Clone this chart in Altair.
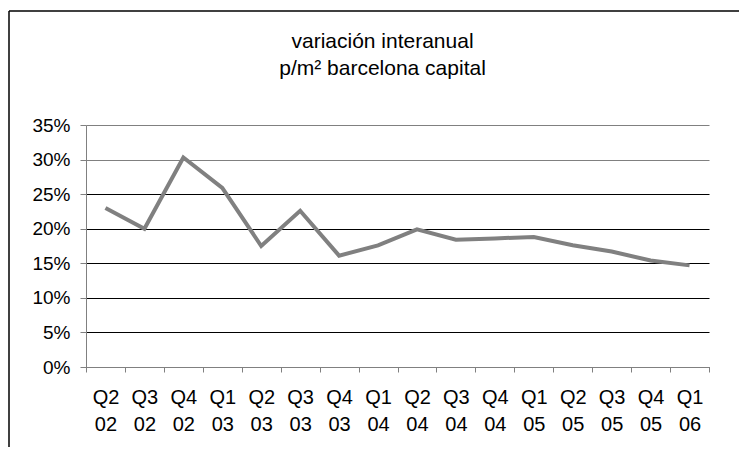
import altair as alt
import pandas as pd

quarters = ["Q2 02", "Q3 02", "Q4 02", "Q1 03", "Q2 03", "Q3 03", "Q4 03", "Q1 04",
            "Q2 04", "Q3 04", "Q4 04", "Q1 05", "Q2 05", "Q3 05", "Q4 05", "Q1 06"]
values = [0.230, 0.200, 0.303, 0.259, 0.175, 0.226, 0.161, 0.176,
          0.199, 0.184, 0.186, 0.188, 0.176, 0.167, 0.154, 0.147]
y_ticks = [0.0, 0.05, 0.10, 0.15, 0.20, 0.25, 0.30, 0.35]
title_lines = ["variación interanual", "p/m² barcelona capital"]

FONT = "Liberation Sans"
df = pd.DataFrame({"q": quarters, "v": values})

line = alt.Chart(df).mark_line(color="#808080", strokeWidth=4, strokeJoin="miter").encode(
    x=alt.X("q:N", sort=quarters, bandPosition=0.5,
            scale=alt.Scale(type="band", paddingInner=0, paddingOuter=0),
            axis=alt.Axis(title=None, labelAngle=0, labelExpr="split(datum.label, ' ')",
                          labelLineHeight=27, labelFontSize=20, labelFont=FONT,
                          labelColor="#000000", labelPadding=15, labelBaseline="top",
                          tickBand="extent", tickSize=5, tickColor="#808080",
                          domainColor="#808080", grid=False)),
    y=alt.Y("v:Q", scale=alt.Scale(domain=[0, 0.35], nice=False),
            axis=alt.Axis(title=None, values=y_ticks, format=".0%", labelFontSize=19,
                          labelFont=FONT, labelColor="#000000", labelPadding=10,
                          tickSize=6, tickColor="#808080", domainColor="#808080",
                          grid=True,
                          gridColor=alt.condition("datum.value >= 0.29", alt.value("#808080"), alt.value("#000000")),
                          gridOpacity=1)),
)

one = alt.Data(values=[{}])
frame_top = alt.Chart(one).mark_rule(color="#000000", strokeWidth=1.5).encode(
    x=alt.value(-77), x2=alt.value(700), y=alt.value(-114))
frame_left = alt.Chart(one).mark_rule(color="#000000", strokeWidth=1.5).encode(
    x=alt.value(-77), y=alt.value(-114), y2=alt.value(400))

title1 = alt.Chart(one).mark_text(font=FONT, fontSize=21, color="#000000",
                                  align="center", baseline="alphabetic").encode(
    x=alt.value(296.5), y=alt.value(-77.5), text=alt.value(title_lines[0]))
title2 = alt.Chart(one).mark_text(font=FONT, fontSize=21, color="#000000",
                                  align="center", baseline="alphabetic").encode(
    x=alt.value(296.5), y=alt.value(-50), text=alt.value(title_lines[1]))

chart = alt.layer(frame_top, frame_left, title1, title2, line).properties(
    width=623, height=242,
    autosize=alt.AutoSizeParams(type="none"),
    padding={"left": 78, "top": 117, "right": 30, "bottom": 80},
).configure_view(stroke=None)

chart.save("out.html", embed_options={"renderer": "svg", "actions": False})
